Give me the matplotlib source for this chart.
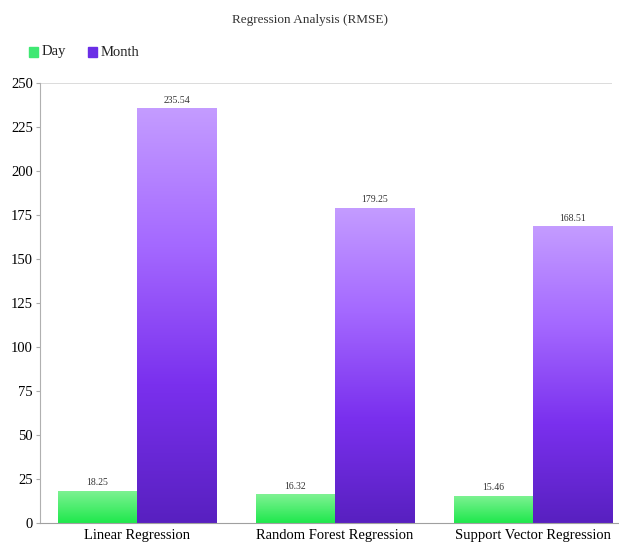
import numpy as np
import matplotlib
matplotlib.use("Agg")
import matplotlib.pyplot as plt
from matplotlib.colors import LinearSegmentedColormap
from matplotlib.patches import Rectangle

models = ["Linear Regression", "Random Forest Regression", "Support Vector Regression"]
day_rmse = [18.25, 16.32, 15.46]
month_rmse = [235.54, 179.25, 168.51]
y_ticks = [0, 25, 50, 75, 100, 125, 150, 175, 200, 225, 250]

plt.rcParams["font.family"] = ["Liberation Serif", "DejaVu Serif"]

green_cmap = LinearSegmentedColormap.from_list("g", ["#1ee84c", "#80f294"])
purple_cmap = LinearSegmentedColormap.from_list("p", ["#5820c0", "#7a30ee", "#a468ff", "#c49cff"])

fig = plt.figure(figsize=(6.19, 5.48), dpi=100)
ax = fig.add_axes([40 / 619, 25 / 548, 572 / 619, 440 / 548])

width = 0.4
x = np.arange(len(models))


def gradient_bar(ax, xc, h, cmap):
    bar = ax.bar(xc, h, width, color="none", edgecolor="none")[0]
    grad = np.linspace(0, 1, 256).reshape(-1, 1)
    im = ax.imshow(grad, cmap=cmap, origin="lower", aspect="auto",
                   extent=[xc - width / 2, xc + width / 2, 0, h], zorder=2)
    im.set_clip_path(bar)
    return bar


for i in range(len(models)):
    gradient_bar(ax, x[i] - width / 2, day_rmse[i], green_cmap)
    gradient_bar(ax, x[i] + width / 2, month_rmse[i], purple_cmap)
    ax.text(x[i] - width / 2, day_rmse[i] + 2, f"{day_rmse[i]:.2f}",
            ha="center", va="bottom", fontsize=7, color="#333333")
    ax.text(x[i] + width / 2, month_rmse[i] + 2, f"{month_rmse[i]:.2f}",
            ha="center", va="bottom", fontsize=7, color="#333333")

ax.set_xlim(-0.49, 2.40)
ax.set_ylim(0, 250)
ax.set_yticks(y_ticks)
ax.set_xticks(x)
ax.set_xticklabels(models, fontsize=10.5)
ax.tick_params(axis="y", labelsize=10.5, length=3, color="#aaaaaa", pad=2)
ax.tick_params(axis="x", length=0, pad=4)
ax.axhline(250, color="#d5d5d5", lw=1.2, zorder=1)

for side in ["top", "right"]:
    ax.spines[side].set_visible(False)
ax.spines["left"].set_color("#b0b0b0")
ax.spines["bottom"].set_color("#a0a0a0")
ax.spines["bottom"].set_bounds(-0.49, 2.5)
ax.spines["bottom"].set_clip_on(False)

fig.text(0.5, 1 - 20 / 548, "Regression Analysis (RMSE)", ha="center", va="center",
         fontsize=9.5, color="#333333")

# legend
fig.patches.append(Rectangle((29 / 619, 1 - 57 / 548), 9 / 619, 10 / 548,
                             transform=fig.transFigure, color="#3fe873", figure=fig))
fig.text(42 / 619, 1 - 52 / 548, "Day", va="center", fontsize=10.5, color="#222222")
fig.patches.append(Rectangle((88 / 619, 1 - 57 / 548), 9 / 619, 10 / 548,
                             transform=fig.transFigure, color="#6a2ee6", figure=fig))
fig.text(101 / 619, 1 - 52 / 548, "Month", va="center", fontsize=10.5, color="#222222")

fig.savefig("out.png", dpi=100)
